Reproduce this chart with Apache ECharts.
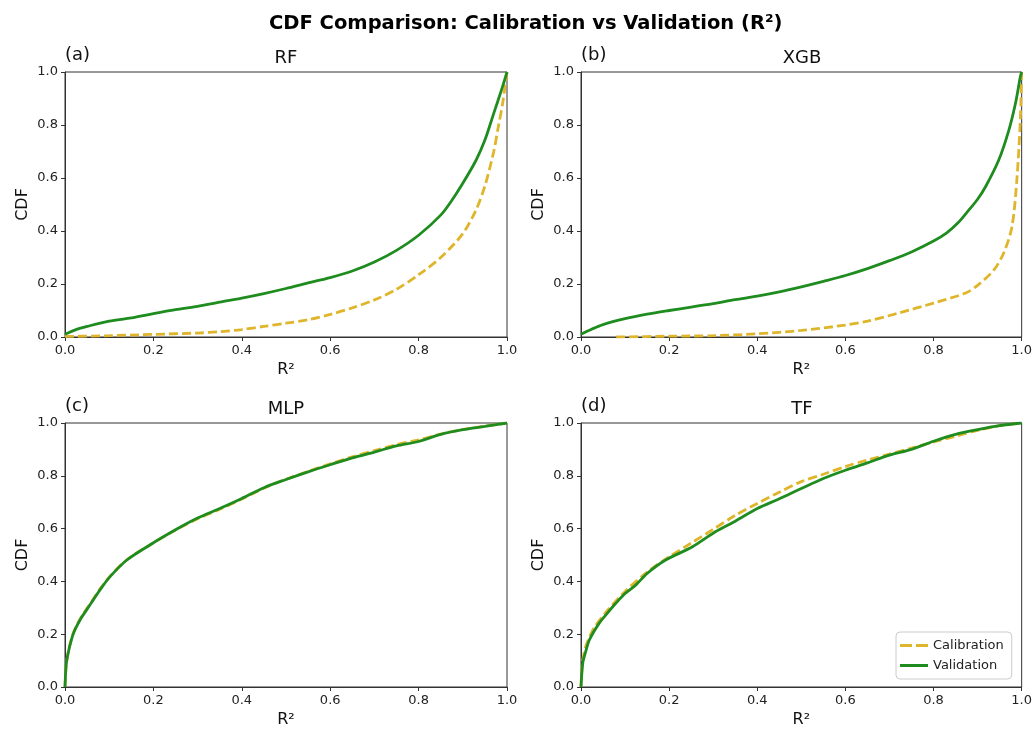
<!DOCTYPE html>
<html>
<head>
<meta charset="utf-8">
<script src="https://cdn.jsdelivr.net/npm/echarts@6/dist/echarts.min.js"></script>
<style>
  html, body { margin: 0; padding: 0; background: #fff; }
  #chart { width: 1035px; height: 731px; }
</style>
</head>
<body>
<div id="chart"></div>
<script>
// Empirical CDFs of R² per model: [R², cumulative fraction]
const panelNames = ['RF', 'XGB', 'MLP', 'TF'];
const panelTags = ['(a)', '(b)', '(c)', '(d)'];
const seriesNames = ['Calibration', 'Validation'];
const tickValues = [0.0, 0.2, 0.4, 0.6, 0.8, 1.0];

const rfCal = [
  [0, 0.002], [0.1, 0.005], [0.2, 0.01], [0.3, 0.015], [0.35, 0.02], [0.4, 0.028],
  [0.45, 0.04], [0.5, 0.052], [0.55, 0.065], [0.6, 0.085], [0.65, 0.11], [0.7, 0.14],
  [0.75, 0.18], [0.8, 0.235], [0.85, 0.3], [0.9, 0.39], [0.93, 0.48], [0.95, 0.57],
  [0.97, 0.7], [0.98, 0.79], [0.99, 0.88], [1.0, 1.0]
];
const rfVal = [
  [0, 0.01], [0.025, 0.028], [0.05, 0.04], [0.1, 0.06], [0.15, 0.072], [0.2, 0.088],
  [0.25, 0.103], [0.3, 0.116], [0.35, 0.132], [0.4, 0.147], [0.45, 0.164], [0.5, 0.183],
  [0.55, 0.204], [0.6, 0.224], [0.65, 0.249], [0.7, 0.283], [0.75, 0.327], [0.8, 0.384],
  [0.85, 0.46], [0.875, 0.515], [0.9, 0.58], [0.93, 0.667], [0.95, 0.743],
  [0.97, 0.844], [0.99, 0.945], [1.0, 1.0]
];
const xgbCal = [
  [0.08, 0.0], [0.2, 0.003], [0.3, 0.005], [0.4, 0.012], [0.5, 0.025], [0.6, 0.045],
  [0.65, 0.06], [0.72, 0.09], [0.8, 0.128], [0.873, 0.166], [0.9, 0.195], [0.937, 0.253],
  [0.96, 0.32], [0.978, 0.416], [0.989, 0.592], [0.997, 0.82], [1.0, 1.0]
];
const xgbVal = [
  [0, 0.01], [0.025, 0.03], [0.05, 0.047], [0.1, 0.069], [0.15, 0.086], [0.2, 0.1],
  [0.25, 0.113], [0.3, 0.126], [0.35, 0.141], [0.4, 0.154], [0.45, 0.17], [0.5, 0.189],
  [0.55, 0.21], [0.6, 0.232], [0.65, 0.258], [0.7, 0.288], [0.75, 0.321], [0.8, 0.362],
  [0.83, 0.393], [0.855, 0.43], [0.88, 0.479], [0.9, 0.52], [0.918, 0.567],
  [0.948, 0.668], [0.971, 0.781], [0.986, 0.882], [0.997, 0.982], [1.0, 1.0]
];
const mlpCal = [
  [0, 0], [0.002, 0.07], [0.004, 0.1], [0.01, 0.152], [0.019, 0.205], [0.034, 0.257],
  [0.05, 0.298], [0.064, 0.333], [0.08, 0.373], [0.102, 0.42], [0.14, 0.482],
  [0.192, 0.538], [0.256, 0.6], [0.3, 0.637], [0.35, 0.673], [0.4, 0.712], [0.45, 0.753],
  [0.5, 0.787], [0.55, 0.817], [0.6, 0.845], [0.65, 0.872], [0.7, 0.895], [0.75, 0.918],
  [0.8, 0.936], [0.85, 0.958], [0.9, 0.975], [0.95, 0.988], [1.0, 1.0]
];
const mlpVal = [
  [0, 0], [0.002, 0.07], [0.004, 0.1], [0.01, 0.15], [0.019, 0.203], [0.034, 0.254],
  [0.05, 0.295], [0.064, 0.33], [0.08, 0.37], [0.102, 0.418], [0.14, 0.481],
  [0.192, 0.538], [0.256, 0.601], [0.3, 0.64], [0.35, 0.676], [0.4, 0.714], [0.45, 0.755],
  [0.5, 0.786], [0.55, 0.815], [0.6, 0.842], [0.65, 0.868], [0.7, 0.89], [0.75, 0.913],
  [0.8, 0.93], [0.85, 0.957], [0.9, 0.975], [0.95, 0.987], [1.0, 1.0]
];
const tfCal = [
  [0, 0], [0.003, 0.09], [0.01, 0.15], [0.02, 0.192], [0.03, 0.225], [0.06, 0.29],
  [0.1, 0.362], [0.15, 0.435], [0.2, 0.493], [0.25, 0.545], [0.3, 0.597], [0.35, 0.65],
  [0.4, 0.695], [0.45, 0.738], [0.5, 0.778], [0.55, 0.806], [0.6, 0.835], [0.65, 0.86],
  [0.7, 0.882], [0.75, 0.905], [0.8, 0.928], [0.85, 0.95], [0.9, 0.972], [0.95, 0.99],
  [1.0, 1.0]
];
const tfVal = [
  [0, 0], [0.004, 0.09], [0.01, 0.13], [0.019, 0.178], [0.041, 0.241], [0.06, 0.28],
  [0.079, 0.317], [0.1, 0.354], [0.124, 0.386], [0.15, 0.43], [0.192, 0.481],
  [0.253, 0.531], [0.305, 0.588], [0.35, 0.628], [0.4, 0.676], [0.45, 0.713], [0.5, 0.752],
  [0.55, 0.79], [0.6, 0.821], [0.65, 0.849], [0.7, 0.878], [0.75, 0.9], [0.8, 0.931],
  [0.85, 0.957], [0.9, 0.975], [0.95, 0.99], [1.0, 1.0]
];

const calibrationData = [rfCal, xgbCal, mlpCal, tfCal];
const validationData = [rfVal, xgbVal, mlpVal, tfVal];

const FONT = 'DejaVu Sans';
const GOLD = '#DFB52C';
const GREEN = '#1E8C1E';
const AXIS = '#333333';

// 2x2 panel geometry in pixels
const grids = [
  { left: 65, top: 72, width: 442, height: 265 },
  { left: 581, top: 72, width: 442, height: 265 },
  { left: 65, top: 423, width: 442, height: 264 },
  { left: 581, top: 423, width: 442, height: 264 }
];

const fmt = v => v.toFixed(1);

function axisCommon(idx) {
  return {
    gridIndex: idx,
    type: 'value',
    min: 0,
    max: 1,
    interval: 0.2,
    splitLine: { show: false },
    axisLine: { show: true, lineStyle: { color: AXIS, width: 1 } },
    axisTick: { show: true, inside: false, length: 4, lineStyle: { color: AXIS, width: 1 } },
    nameLocation: 'middle',
    nameTextStyle: { fontFamily: FONT, fontSize: 16, color: '#111' }
  };
}

const xAxes = grids.map((g, i) => Object.assign(axisCommon(i), {
  name: 'R²',
  nameGap: 25,
  axisLabel: { formatter: fmt, fontFamily: FONT, fontSize: 13, color: '#222', margin: 7 }
}));
const yAxes = grids.map((g, i) => Object.assign(axisCommon(i), {
  name: 'CDF',
  nameGap: 34,
  axisLabel: { formatter: fmt, fontFamily: FONT, fontSize: 13, color: '#222', margin: 7 }
}));

const series = [];
grids.forEach((g, i) => {
  series.push({
    name: seriesNames[0], type: 'line', xAxisIndex: i, yAxisIndex: i,
    data: calibrationData[i], symbol: 'none', smooth: 0.3, z: 2,
    lineStyle: { color: GOLD, width: 2.8, type: [9, 4] },
    itemStyle: { color: GOLD }
  });
  series.push({
    name: seriesNames[1], type: 'line', xAxisIndex: i, yAxisIndex: i,
    data: validationData[i], symbol: 'none', smooth: 0.3, z: 3,
    lineStyle: { color: GREEN, width: 2.8 },
    itemStyle: { color: GREEN }
  });
});

// Panel titles and letter tags
const graphics = [];
grids.forEach((g, i) => {
  graphics.push({
    type: 'text', x: g.left + g.width / 2, y: g.top - 14,
    style: { text: panelNames[i], font: '18px "' + FONT + '"', fill: '#111', align: 'center', verticalAlign: 'middle' }
  });
  graphics.push({
    type: 'text', x: g.left, y: g.top - 17,
    style: { text: panelTags[i], font: '18px "' + FONT + '"', fill: '#111', align: 'left', verticalAlign: 'middle' }
  });
});

const chart = echarts.init(document.getElementById('chart'), null, { renderer: 'canvas' });
chart.setOption({
  backgroundColor: '#ffffff',
  animation: false,
  title: {
    text: 'CDF Comparison: Calibration vs Validation (R²)',
    left: 264,
    top: 9,
    textStyle: { fontFamily: FONT, fontSize: 19.5, fontWeight: 'bold', color: '#000' }
  },
  legend: {
    data: [
      { name: seriesNames[0], icon: 'path://M0,0h12v3h-12z M16,0h12v3h-12z', itemStyle: { color: GOLD } },
      { name: seriesNames[1], icon: 'path://M0,0h28v3h-28z', itemStyle: { color: GREEN } }
    ],
    orient: 'vertical',
    left: 896,
    top: 632,
    padding: [6, 8, 6, 4],
    itemGap: 5,
    itemWidth: 28,
    itemHeight: 3,
    backgroundColor: '#ffffff',
    borderColor: '#cccccc',
    borderWidth: 1,
    borderRadius: 4,
    textStyle: { fontFamily: FONT, fontSize: 13, color: '#222', lineHeight: 15 }
  },
  grid: grids.map(g => Object.assign({ show: true, borderColor: AXIS, borderWidth: 1, backgroundColor: 'transparent', containLabel: false }, g)),
  xAxis: xAxes,
  yAxis: yAxes,
  series: series,
  graphic: graphics
});
</script>
</body>
</html>
